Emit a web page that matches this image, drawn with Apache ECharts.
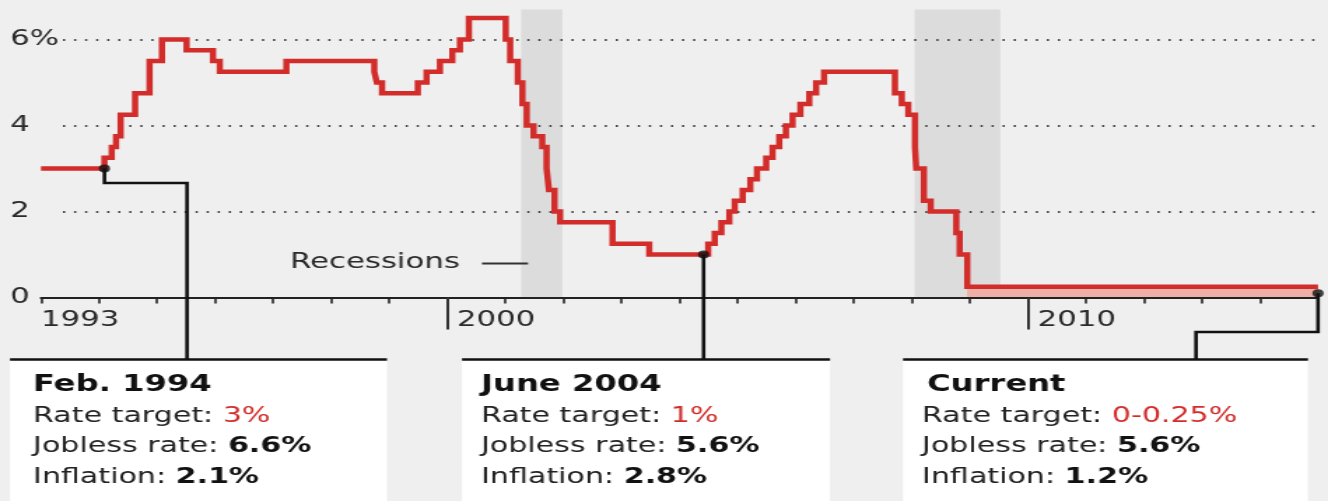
<!DOCTYPE html>
<html>
<head>
<meta charset="utf-8">
<script src="https://cdn.jsdelivr.net/npm/echarts@6/dist/echarts.min.js"></script>
<style>
html,body{margin:0;padding:0;background:#efefef;overflow:hidden;width:1328px;height:501px}
#wrap{position:absolute;left:0;top:0;width:949px;height:501px;transform:scaleX(1.39937);transform-origin:0 0}
</style>
</head>
<body>
<div id="wrap"></div>
<script>
// ---- Data ----
const changeDates = ['1993-01-01','1994-02-04','1994-03-22','1994-04-18','1994-05-17','1994-08-16','1994-11-15',
  '1995-02-01','1995-07-06','1995-12-19','1996-01-31','1997-03-25','1998-09-29','1998-10-15','1998-11-17',
  '1999-06-30','1999-08-24','1999-11-16','2000-02-02','2000-03-21','2000-05-16','2001-01-03','2001-01-31',
  '2001-03-20','2001-04-18','2001-05-15','2001-06-27','2001-08-21','2001-09-17','2001-10-02','2001-11-06',
  '2001-12-11','2002-11-06','2003-06-25','2004-06-30','2004-08-10','2004-09-21','2004-11-10','2004-12-14',
  '2005-02-02','2005-03-22','2005-05-03','2005-06-30','2005-08-09','2005-09-20','2005-11-01','2005-12-13',
  '2006-01-31','2006-03-28','2006-05-10','2006-06-29','2007-09-18','2007-10-31','2007-12-11','2008-01-22',
  '2008-01-30','2008-03-18','2008-04-30','2008-10-08','2008-10-29','2008-12-16','2015-01-01'];
const targetRates = [3.0,3.25,3.5,3.75,4.25,4.75,5.5,
  6.0,5.75,5.5,5.25,5.5,5.25,5.0,4.75,
  5.0,5.25,5.5,5.75,6.0,6.5,6.0,5.5,
  5.0,4.5,4.0,3.75,3.5,3.0,2.5,2.0,
  1.75,1.25,1.0,1.25,1.5,1.75,2.0,2.25,
  2.5,2.75,3.0,3.25,3.5,3.75,4.0,4.25,
  4.5,4.75,5.0,5.25,4.75,4.5,4.25,3.5,
  3.0,2.25,2.0,1.5,1.0,0.25,0.25];

const recessionStarts = ['2001-04-10','2008-01-20'];
const recessionEnds   = ['2001-12-25','2009-07-12'];
const zeroBoundStart = '2008-12-16';
const zeroBoundEnd   = '2015-01-01';
const zeroBoundRange = [0, 0.25];

const xMin = '1993-01-01';
const xMax = '2015-01-01';
const yTicks = [0, 2, 4, 6];
const yTickLabels = ['0', '2', '4', '6%'];
const xLabelDates = ['1993-01-01','2000-01-01','2010-01-01'];
const majorTickDates = ['2000-01-01','2010-01-01'];
const minorTickDates = ['1993-01-01','1994-01-01','1995-01-01','1996-01-01','1997-01-01','1998-01-01',
  '1999-01-01','2000-01-01','2001-01-01','2002-01-01','2003-01-01','2004-01-01','2005-01-01',
  '2006-01-01','2007-01-01','2008-01-01','2009-01-01','2010-01-01','2011-01-01','2012-01-01',
  '2013-01-01','2014-01-01'];

const noteTitles = ['Feb. 1994','June 2004','Current'];
const noteDates  = ['1994-02-04','2004-06-01','2015-01-01'];
const noteValues = [3.0, 1.0, 0.1];
const noteRate = ['3%','1%','0-0.25%'];
const noteJobless = ['6.6%','5.6%','5.6%'];
const noteInflation = ['2.1%','2.8%','1.2%'];
const recessionLabel = 'Recessions';

// ---- Helpers ----
const T = s => { const p = s.split('-').map(Number); return new Date(p[0], p[1] - 1, p[2]).getTime(); };

// ---- Styling / layout ----
const FONT = 'DejaVu Sans';
const RED = '#d22d2a';
const SX = 1.39937;           // horizontal stretch applied via CSS
const px = v => v / SX;       // convert reference-x to chart-x

const chart = echarts.init(document.getElementById('wrap'), null, {renderer: 'canvas'});

const gridTop = 9.4, gridBottom = 203.5;
const option = {
  animation: false,
  backgroundColor: '#efefef',
  grid: [
    {left: px(41), right: 949 - px(1318), top: gridTop, bottom: gridBottom},
    {left: px(63), right: 949 - px(1318), top: gridTop, bottom: gridBottom}
  ],
  xAxis: [
    {
      type: 'value', gridIndex: 0, min: T(xMin), max: T(xMax), position: 'bottom', z: 3,
      axisLine: {show: true, onZero: false, lineStyle: {color: '#222', width: 2}},
      axisTick: {show: true, customValues: minorTickDates.map(T), length: 6, lineStyle: {color: '#222', width: 1.6}},
      axisLabel: {
        show: true, customValues: xLabelDates.map(T), margin: 12, align: 'left',
        formatter: function (v) {
          const y = new Date(v).getFullYear();
          return y === 1993 ? '{a|' + y + '}' : '{b|' + y + '}';
        },
        rich: {
          a: {fontFamily: FONT, fontSize: 22, color: '#2a2a2a', padding: [0, 0, 0, 0]},
          b: {fontFamily: FONT, fontSize: 22, color: '#2a2a2a', padding: [0, 0, 0, 7]}
        }
      },
      splitLine: {show: false}
    },
    {
      type: 'value', gridIndex: 0, min: T(xMin), max: T(xMax), position: 'bottom', z: 3,
      axisLine: {show: false, onZero: false},
      axisTick: {show: true, customValues: majorTickDates.map(T), length: 32, lineStyle: {color: '#333', width: 2}},
      axisLabel: {show: false},
      splitLine: {show: false}
    },
    {
      type: 'value', gridIndex: 1, min: T(xMin), max: T(xMax), show: false,
      splitLine: {show: false}
    }
  ],
  yAxis: [
    {
      type: 'value', gridIndex: 0, min: 0, max: 6.7, interval: 2,
      axisLine: {show: false}, axisTick: {show: false}, splitLine: {show: false},
      axisLabel: {
        show: true, align: 'left', margin: px(41) - px(10), showMaxLabel: false,
        fontFamily: FONT, fontSize: 22, color: '#2a2a2a',
        formatter: function (v) {
          const i = yTicks.indexOf(v);
          return i >= 0 ? yTickLabels[i] : '';
        }
      }
    },
    {
      type: 'value', gridIndex: 1, min: 0, max: 6.7, interval: 2, z: 2,
      axisLine: {show: false}, axisTick: {show: false}, axisLabel: {show: false},
      splitLine: {show: true, showMinLine: false, showMaxLine: false,
        lineStyle: {type: [1.5, 6.4], color: '#444', width: 2}}
    }
  ],
  series: [
    {
      type: 'line', xAxisIndex: 0, yAxisIndex: 0, step: 'end', z: 4,
      showSymbol: false, silent: true,
      data: changeDates.map((d, i) => [T(d), targetRates[i]]),
      lineStyle: {color: RED, width: 4.5, join: 'miter'},
      markArea: {
        silent: true, z: 1,
        data: recessionStarts.map((s, i) => [
          {xAxis: T(s), itemStyle: {color: '#dcdcdc'}},
          {xAxis: T(recessionEnds[i])}
        ]).concat([[
          {xAxis: T(zeroBoundStart), yAxis: zeroBoundRange[0], itemStyle: {color: '#eeb0a6'}},
          {xAxis: T(zeroBoundEnd), yAxis: zeroBoundRange[1]}
        ]])
      }
    },
    {
      type: 'scatter', xAxisIndex: 0, yAxisIndex: 0, z: 8, silent: true,
      symbol: 'circle', symbolSize: 8,
      itemStyle: {color: '#111'},
      data: noteDates.map((d, i) => [T(d), noteValues[i]])
    }
  ]
};
chart.setOption(option);

// ---- Annotation boxes and connectors ----
const dots = noteDates.map((d, i) => chart.convertToPixel({xAxisIndex: 0, yAxisIndex: 0}, [T(d), noteValues[i]]));
const boxTop = 359.5;
const boxes = [
  {x0: px(10),  x1: px(387),  tx: px(33),  ttx: px(33)},
  {x0: px(462), x1: px(830),  tx: px(481), ttx: px(481)},
  {x0: px(903), x1: px(1308), tx: px(922), ttx: px(927)}
];
const connectors = [
  [dots[0], [dots[0][0], 183], [px(187), 183], [px(187), boxTop]],
  [dots[1], [dots[1][0], boxTop]],
  [dots[2], [dots[2][0], 332], [px(1196), 332], [px(1196), boxTop]]
];

const graphics = [];
boxes.forEach((b, i) => {
  graphics.push({type: 'rect', z: 5, silent: true,
    shape: {x: b.x0, y: boxTop, width: b.x1 - b.x0, height: 501 - boxTop},
    style: {fill: '#ffffff'}});
  graphics.push({type: 'polyline', z: 6, silent: true,
    shape: {points: connectors[i]},
    style: {stroke: '#111', lineWidth: 2.6, fill: null, lineJoin: 'miter'}});
  graphics.push({type: 'line', z: 6, silent: true,
    shape: {x1: b.x0, y1: boxTop, x2: b.x1, y2: boxTop},
    style: {stroke: '#111', lineWidth: 2.6}});
  graphics.push({type: 'text', z: 7, silent: true,
    style: {x: b.ttx, y: 385, text: noteTitles[i], verticalAlign: 'middle', align: 'left',
      fontFamily: FONT, fontSize: 23, fontWeight: 'bold', fill: '#111'}});
  graphics.push({type: 'text', z: 7, silent: true,
    style: {x: b.tx, y: 416 - 15.25, verticalAlign: 'top', align: 'left',
      text: '{l|Rate target: }{r|' + noteRate[i] + '}\n{l|Jobless rate: }{b|' + noteJobless[i] +
            '}\n{l|Inflation: }{b|' + noteInflation[i] + '}',
      rich: {
        l: {fontFamily: FONT, fontSize: 21.5, fill: '#222', lineHeight: 30.5},
        r: {fontFamily: FONT, fontSize: 21.5, fill: RED, lineHeight: 30.5},
        b: {fontFamily: FONT, fontSize: 21.5, fontWeight: 'bold', fill: '#111', lineHeight: 30.5}
      }}});
});
graphics.push({type: 'text', z: 7, silent: true,
  style: {x: px(290), y: 262, text: recessionLabel, verticalAlign: 'middle', align: 'left',
    fontFamily: FONT, fontSize: 22, fill: '#2a2a2a'}});
graphics.push({type: 'line', z: 7, silent: true,
  shape: {x1: px(482), y1: 263.5, x2: px(528), y2: 263.5},
  style: {stroke: '#333', lineWidth: 2}});

chart.setOption({graphic: graphics});
</script>
</body>
</html>
